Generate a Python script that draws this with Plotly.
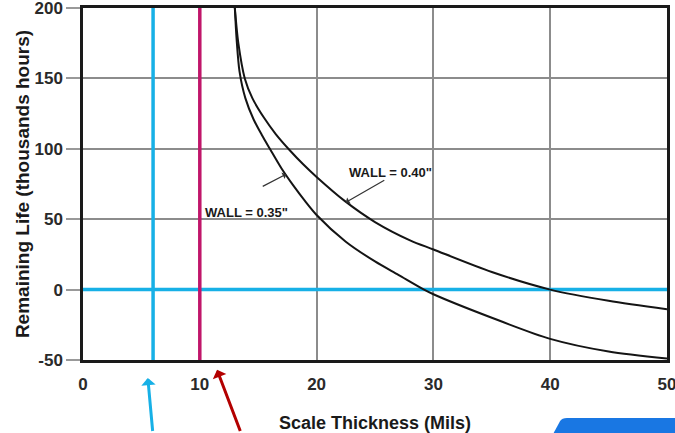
import plotly.graph_objects as go

# ---- data ----
x_ticks = [0, 10, 20, 30, 40, 50]
y_ticks = [-50, 0, 50, 100, 150, 200]

wall_035_x = [13.0, 13.15, 13.4, 13.9, 14.6, 15.3, 16.0, 17.0, 18.0, 19.0, 20.0,
              22.5, 25.0, 27.0, 29.2, 30.0, 35.0, 40.0, 45.0, 50.0]
wall_035_y = [200, 178, 155, 136, 121, 110, 100, 86, 74, 63, 53,
              34, 20, 10.5, 0, -3.3, -20, -35, -44, -49]

wall_040_x = [13.0, 13.3, 13.85, 14.5, 15.5, 16.5, 17.7, 18.85, 20.0,
              22.4, 25.0, 28.0, 30.0, 35.0, 40.0, 45.0, 50.0]
wall_040_y = [200, 175, 150, 136, 122, 110.5, 99, 89, 80,
              63, 48, 35, 28.5, 12.5, 0, -8, -14]

marker_blue_x = 6      # blue vertical reference line
marker_red_x = 10      # magenta vertical reference line
zero_life_y = 0        # blue horizontal reference line

label_035 = 'WALL = 0.35"'
label_040 = 'WALL = 0.40"'

BLUE = "#17b0e6"
MAGENTA = "#c0166a"

fig = go.Figure()

fig.add_trace(go.Scatter(x=wall_035_x, y=wall_035_y, mode="lines",
                         line=dict(color="#141414", width=2, shape="spline", smoothing=0.8),
                         showlegend=False, hoverinfo="skip"))
fig.add_trace(go.Scatter(x=wall_040_x, y=wall_040_y, mode="lines",
                         line=dict(color="#141414", width=2, shape="spline", smoothing=0.8),
                         showlegend=False, hoverinfo="skip"))

# reference lines
fig.add_shape(type="line", xref="x", yref="y", x0=0, x1=50, y0=zero_life_y, y1=zero_life_y,
              line=dict(color=BLUE, width=3.5), layer="between")
fig.add_shape(type="line", xref="x", yref="y", x0=marker_blue_x, x1=marker_blue_x, y0=-50, y1=200,
              line=dict(color=BLUE, width=3.5), layer="between")
fig.add_shape(type="line", xref="x", yref="y", x0=marker_red_x, x1=marker_red_x, y0=-50, y1=200,
              line=dict(color=MAGENTA, width=3.5), layer="between")

# bottom-right blue tab (decoration)
fig.add_shape(type="path", xref="paper", yref="paper",
              path="M 0.805 -0.21 L 0.817 -0.1733 Q 0.8202 -0.1648 0.8288 -0.1648 L 1.03 -0.1648 L 1.03 -0.21 Z",
              fillcolor="#1977e3", line=dict(width=0), layer="above")

ann_font = dict(family="Liberation Sans", size=13, color="#1a1a1a", weight="bold")

# labels
fig.add_annotation(x=14.0, y=55.1, xref="x", yref="y", text=label_035, showarrow=False,
                   font=ann_font)
fig.add_annotation(x=26.3, y=83.5, xref="x", yref="y", text=label_040, showarrow=False,
                   font=ann_font)
# label arrows
fig.add_annotation(x=17.4, y=82, xref="x", yref="y", text=" ", font=dict(size=1),
                   showarrow=True, arrowhead=1, arrowsize=1, arrowwidth=1.2,
                   arrowcolor="#333", ax=-25, ay=13)
fig.add_annotation(x=22.5, y=62, xref="x", yref="y", text=" ", font=dict(size=1),
                   showarrow=True, arrowhead=1, arrowsize=1, arrowwidth=1.2,
                   arrowcolor="#333", ax=40, ay=-23)

# bottom arrows pointing to the reference lines
fig.add_annotation(x=0.111, y=-0.051, xref="paper", yref="paper", text=" ", font=dict(size=1),
                   showarrow=True, arrowhead=1, arrowsize=0.8, arrowwidth=3,
                   arrowcolor=BLUE, ax=5, ay=60)
fig.add_annotation(x=0.2295, y=-0.028, xref="paper", yref="paper", text=" ", font=dict(size=1),
                   showarrow=True, arrowhead=1, arrowsize=0.8, arrowwidth=3,
                   arrowcolor="#b30000", ax=24, ay=68)

tick_font = dict(family="Liberation Sans", size=17, color="#2a2a2a", weight="bold")
title_font = dict(family="Liberation Sans", size=19, color="#1a1a1a", weight="bold")

fig.update_xaxes(range=[0, 50], tickvals=x_ticks, ticktext=[str(v) for v in x_ticks],
                 showgrid=True, gridcolor="#8c8c8c", gridwidth=1.5,
                 showline=True, mirror=True, linecolor="#1a1a1a", linewidth=2.5,
                 ticks="", ticklabelstandoff=7, zeroline=False,
                 automargin=False, ticklabeloverflow="allow",
                 tickfont=tick_font,
                 title=dict(text="Scale Thickness (Mils)", standoff=26,
                            font=dict(family="Liberation Sans", size=18, color="#1a1a1a", weight="bold")))
fig.update_yaxes(range=[-50, 200], tickvals=y_ticks, ticktext=[str(v) for v in y_ticks],
                 showgrid=True, gridcolor="#8c8c8c", gridwidth=1.5,
                 showline=True, mirror=True, linecolor="#1a1a1a", linewidth=2.5,
                 ticks="outside", ticklen=14, tickwidth=1.5, tickcolor="#999999",
                 zeroline=False, automargin=False, ticklabeloverflow="allow",
                 tickfont=tick_font,
                 title=dict(text="Remaining Life (thousands hours)", standoff=0, font=title_font))

fig.update_layout(width=675, height=433, margin=dict(l=83, r=8, t=8, b=73),
                  paper_bgcolor="white", plot_bgcolor="white", showlegend=False)

fig.write_html("out.html", config={"displayModeBar": False},
               post_script="document.body.style.margin='0px';")
